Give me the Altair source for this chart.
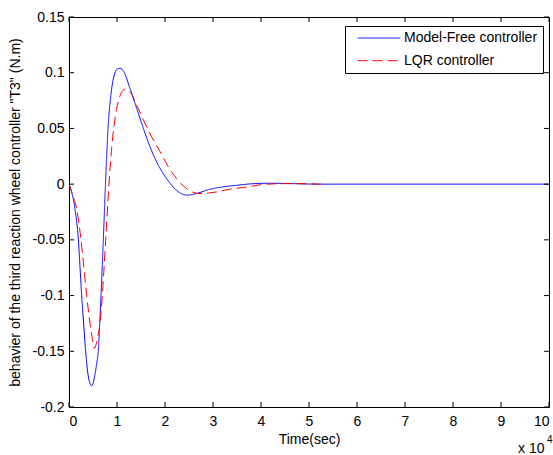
import altair as alt
import pandas as pd

# ---- data (x in units of 10^4 s) ----
series = ["Model-Free controller", "LQR controller"]

t_mf = [0, 0.06, 0.125, 0.195, 0.23, 0.264, 0.305, 0.347, 0.40, 0.44, 0.47, 0.50, 0.54,
        0.58, 0.61, 0.64, 0.667, 0.715, 0.76, 0.79, 0.82, 0.86, 0.90, 0.944, 1.0, 1.07, 1.14,
        1.27, 1.41, 1.55, 1.72, 1.9, 2.05, 2.2, 2.3, 2.45, 2.65, 2.9, 3.2, 3.5, 3.8, 4.2, 4.7,
        5.2, 6, 7, 8, 9, 10]
y_mf = [0, -0.008, -0.0224, -0.05, -0.075, -0.1, -0.125, -0.15, -0.172, -0.179, -0.181, -0.179, -0.171,
        -0.16, -0.15, -0.125, -0.1, -0.05, 0.0, 0.03, 0.055, 0.075, 0.089, 0.098, 0.103, 0.104, 0.101,
        0.086, 0.068, 0.05, 0.03, 0.014, 0.004, -0.004, -0.0075, -0.0099, -0.0085, -0.005, -0.0025, -0.001,
        0.0003, 0.0008, 0.0004, 0.0, 0.0, 0.0, 0.0, 0.0, 0.0]

t_lqr = [0, 0.08, 0.16, 0.25, 0.31, 0.368, 0.4375, 0.49, 0.53, 0.57, 0.61, 0.646, 0.694,
         0.764, 0.833, 0.89, 0.94, 0.99, 1.06, 1.12, 1.167, 1.22, 1.3, 1.42, 1.55, 1.72,
         1.9, 2.07, 2.24, 2.45, 2.6, 2.73, 2.9, 3.08, 3.35, 3.63, 4.12, 4.6, 5.25]
y_lqr = [0, -0.01, -0.0224, -0.05, -0.075, -0.1, -0.125, -0.14, -0.1475, -0.143, -0.135, -0.125, -0.1,
         -0.05, 0.0, 0.033, 0.053, 0.067, 0.079, 0.084, 0.085, 0.0845, 0.081, 0.07, 0.0575, 0.0425,
         0.029, 0.0156, 0.005, -0.004, -0.0075, -0.0084, -0.008, -0.007, -0.0045, -0.003, 0.0, 0.0005, 0.0]

x_ticks = [0, 1, 2, 3, 4, 5, 6, 7, 8, 9, 10]
y_ticks = [-0.2, -0.15, -0.1, -0.05, 0, 0.05, 0.1, 0.15]
exp_text = ["x 10", "4"]

FONT = "Liberation Sans"
W, H = 480, 390

df = pd.concat([
    pd.DataFrame({"t": t_mf, "v": y_mf, "s": series[0], "o": 1}),
    pd.DataFrame({"t": t_lqr, "v": y_lqr, "s": series[1], "o": 0}),
])

xs = alt.Scale(domain=[0, 10], nice=False, zero=False)
ys = alt.Scale(domain=[-0.2, 0.15], nice=False, zero=False)

leg = dict(title=None, orient="none", legendX=276, legendY=9,
           symbolType="M-4,0L4,0", symbolSize=115, symbolStrokeWidth=1,
           symbolOffset=22, labelOffset=18, padding=5, rowPadding=8.7,
           strokeColor="black", fillColor="white", labelFont=FONT,
           labelFontSize=14, labelColor="black", labelLimit=400)

lines = alt.Chart(df).mark_line(strokeWidth=1, interpolate="monotone", clip=True).encode(
    x=alt.X("t:Q", scale=xs, axis=alt.Axis(
        values=x_ticks, format="d", title="Time(sec)", labelPadding=7,
        titleY=36, titleBaseline="alphabetic")),
    y=alt.Y("v:Q", scale=ys, axis=alt.Axis(
        values=y_ticks, title='behavier of the third reaction wheel controller "T3" (N.m)',
        labelExpr="replace(format(datum.value, '~g'), '\u2212', '-')",
        labelPadding=5, titleX=-50, titleY=195, titleAngle=270,
        titleBaseline="alphabetic", titleAlign="center")),
    color=alt.Color("s:N", scale=alt.Scale(domain=series, range=["#0000ff", "#ff0000"]),
                    legend=alt.Legend(**leg)),
    strokeDash=alt.StrokeDash("s:N", scale=alt.Scale(domain=series, range=[[1, 0], [10, 5]]),
                              legend=alt.Legend(**leg)),
    order=alt.Order("o:Q"),
)

xt = pd.DataFrame({"v": x_ticks})
yt = pd.DataFrame({"v": y_ticks})

tick_bottom = alt.Chart(xt).mark_rule(color="black", strokeWidth=1).encode(
    x=alt.X("v:Q", scale=xs), y=alt.value(H), y2=alt.value(H - 5))
tick_top = alt.Chart(xt).mark_rule(color="black", strokeWidth=1).encode(
    x=alt.X("v:Q", scale=xs), y=alt.value(0), y2=alt.value(5))
tick_left = alt.Chart(yt).mark_rule(color="black", strokeWidth=1).encode(
    y=alt.Y("v:Q", scale=ys), x=alt.value(0), x2=alt.value(5))
tick_right = alt.Chart(yt).mark_rule(color="black", strokeWidth=1).encode(
    y=alt.Y("v:Q", scale=ys), x=alt.value(W), x2=alt.value(W - 5))

exp_base = alt.Chart(pd.DataFrame({"txt": [exp_text[0]]})).mark_text(
    font=FONT, fontSize=14, align="left", baseline="alphabetic", color="black").encode(
    x=alt.value(449), y=alt.value(436), text="txt:N")
exp_sup = alt.Chart(pd.DataFrame({"txt": [exp_text[1]]})).mark_text(
    font=FONT, fontSize=10, align="left", baseline="alphabetic", color="black").encode(
    x=alt.value(478), y=alt.value(426), text="txt:N")

chart = alt.layer(lines, tick_bottom, tick_top, tick_left, tick_right, exp_base, exp_sup).properties(
    width=W, height=H,
    autosize=alt.AutoSizeParams(type="none"),
    padding={"left": 69, "top": 17, "right": 4, "bottom": 48},
    background="white",
).configure_view(stroke="black", strokeWidth=1).configure_axis(
    grid=False, domain=False, ticks=False, tickSize=0,
    labelFont=FONT, labelFontSize=14, labelColor="black",
    titleFont=FONT, titleFontSize=14, titleColor="black", titleFontWeight="normal",
)

chart.save("out.html", embed_options={"renderer": "svg", "actions": False})
